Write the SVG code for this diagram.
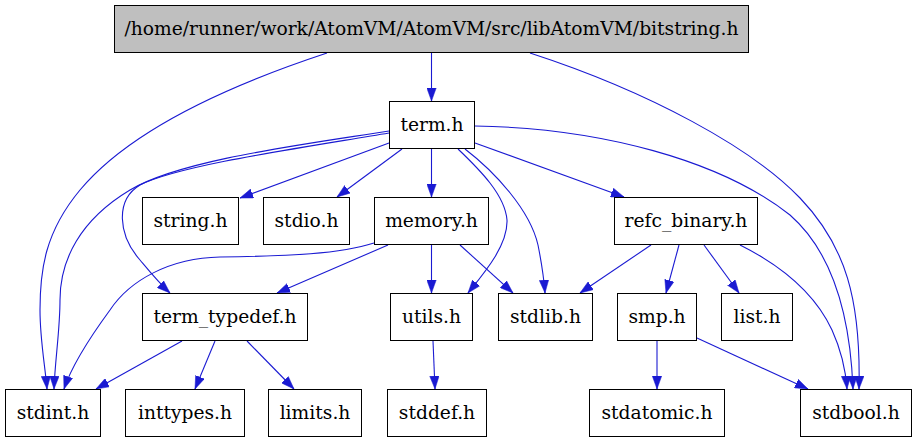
<svg xmlns="http://www.w3.org/2000/svg" width="917" height="443" viewBox="0 0 917 443">
<style>
.n rect{fill:#ffffff;stroke:#000000;stroke-width:1}
#root rect{fill:#bfbfbf}
.n text{font-family:"DejaVu Serif",serif;font-size:18.7px;text-anchor:middle;fill:#000000}
.e path{fill:none;stroke:#1a1ad2;stroke-width:1.1;marker-end:url(#a)}
</style>
<defs>
<marker id="a" markerUnits="userSpaceOnUse" viewBox="0 0 13 10" refX="13" refY="5" markerWidth="13" markerHeight="10" orient="auto">
<path d="M0,0.3 L13,5 L0,9.7 z" fill="#1a1ad2" stroke="#1a1ad2" stroke-width="0.5"/>
</marker>
</defs>
<g class="e" id="edges">
<path d="M431.5,53 L431.5,101"/>
<path d="M327,53 C230,85 130,130 80,190 C45,232 40,270 40,310 C40,340 45,365 47,389"/>
<path d="M530,53 C650,92 752,148 800,198 C846,246 861,300 859,389"/>
<path d="M389,143 L240,198"/>
<path d="M402,149 L337,197"/>
<path d="M431.5,149 L431.5,197"/>
<path d="M475,143 L624,197"/>
<path d="M458,149 C480,170 505,195 507,220 C508,245 485,272 468,293"/>
<path d="M465,149 C495,172 530,210 538,245 C542,265 544,280 545,293"/>
<path d="M475,126 C600,128 720,160 790,215 C830,250 850,310 853,389"/>
<path d="M389,131 C300,145 180,160 130,190 C80,220 60,260 60,300 C60,330 55,360 54,389"/>
<path d="M389,133 C300,148 180,165 140,185 C115,200 118,235 140,260 C150,272 158,282 170,293"/>
<path d="M388,245 L277,293"/>
<path d="M374,243 C340,254 290,256 220,257 C170,258 130,280 110,310 C88,340 72,365 64,389"/>
<path d="M431.5,245 L431.5,293"/>
<path d="M460,245 L513,293"/>
<path d="M651,245 L580,293"/>
<path d="M679,245 L666,293"/>
<path d="M704,245 L739,293"/>
<path d="M740,245 C790,270 818,300 832,330 C842,352 846,375 847,389"/>
<path d="M182,341 L96,389"/>
<path d="M215,341 L195,389"/>
<path d="M247,341 L294,389"/>
<path d="M433,341 L435,389"/>
<path d="M657,341 L657,389"/>
<path d="M697,338 L808,389"/>
</g>
<g class="n" id="root"><rect x="114.5" y="5.5" width="634" height="47"/><text x="431.5" y="35">/home/runner/work/AtomVM/AtomVM/src/libAtomVM/bitstring.h</text></g>
<g class="n" id="term_h"><rect x="389.5" y="101.5" width="85" height="47"/><text x="432" y="131">term.h</text></g>
<g class="n" id="string_h"><rect x="142.5" y="197.5" width="96" height="47"/><text x="190.5" y="227">string.h</text></g>
<g class="n" id="stdio_h"><rect x="263.5" y="197.5" width="86" height="47"/><text x="306.5" y="227">stdio.h</text></g>
<g class="n" id="memory_h"><rect x="374.5" y="197.5" width="114" height="47"/><text x="431.5" y="227">memory.h</text></g>
<g class="n" id="refc_binary_h"><rect x="614.5" y="197.5" width="143" height="47"/><text x="686" y="227">refc_binary.h</text></g>
<g class="n" id="term_typedef_h"><rect x="142.5" y="293.5" width="165" height="47"/><text x="225" y="323">term_typedef.h</text></g>
<g class="n" id="utils_h"><rect x="390.5" y="293.5" width="82" height="47"/><text x="431.5" y="323">utils.h</text></g>
<g class="n" id="stdlib_h"><rect x="498.5" y="293.5" width="94" height="47"/><text x="545.5" y="323">stdlib.h</text></g>
<g class="n" id="smp_h"><rect x="617.5" y="293.5" width="79" height="47"/><text x="657" y="323">smp.h</text></g>
<g class="n" id="list_h"><rect x="721.5" y="293.5" width="71" height="47"/><text x="757" y="323">list.h</text></g>
<g class="n" id="stdint_h"><rect x="5.5" y="389.5" width="95" height="47"/><text x="53" y="419">stdint.h</text></g>
<g class="n" id="inttypes_h"><rect x="125.5" y="389.5" width="119" height="47"/><text x="185" y="419">inttypes.h</text></g>
<g class="n" id="limits_h"><rect x="268.5" y="389.5" width="93" height="47"/><text x="315" y="419">limits.h</text></g>
<g class="n" id="stddef_h"><rect x="387.5" y="389.5" width="99" height="47"/><text x="437" y="419">stddef.h</text></g>
<g class="n" id="stdatomic_h"><rect x="589.5" y="389.5" width="135" height="47"/><text x="657" y="419">stdatomic.h</text></g>
<g class="n" id="stdbool_h"><rect x="800.5" y="389.5" width="111" height="47"/><text x="856" y="419">stdbool.h</text></g>
</svg>
